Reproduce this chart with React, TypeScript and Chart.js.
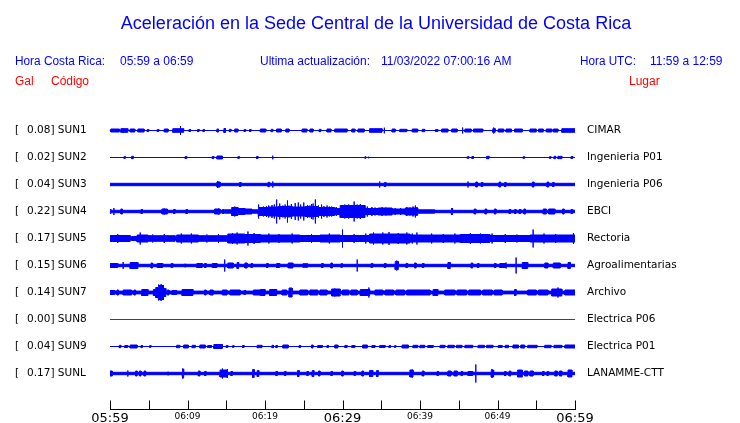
import React, { useEffect, useRef } from "react";
import { Chart, registerables } from "chart.js";

Chart.register(...registerables);

// ---------- texts ----------
const titleText = "Aceleración en la Sede Central de la Universidad de Costa Rica";
const headerLocal = ["Hora Costa Rica:", "05:59 a 06:59"];
const headerUpdate = ["Ultima actualización:", "11/03/2022 07:00:16 AM"];
const headerUtc = ["Hora UTC:", "11:59 a 12:59"];
const columnHeads = ["Gal", "Código", "Lugar"];

// ---------- stations ----------
const stationCodes = ["SUN1", "SUN2", "SUN3", "SUN4", "SUN5", "SUN6", "SUN7", "SUN8", "SUN9", "SUNL"];
const peakGal = ["0.08", "0.02", "0.04", "0.22", "0.17", "0.15", "0.14", "0.00", "0.04", "0.17"];
const places = ["CIMAR", "Ingenieria P01", "Ingenieria P06", "EBCI", "Rectoria", "Agroalimentarias", "Archivo", "Electrica P06", "Electrica P01", "LANAMME-CTT"];
const traceColors = ["#0000ff", "#0000ff", "#0000ff", "#0000ff", "#0000ff", "#0000ff", "#0000ff", "#e00000", "#0000ff", "#0000ff"];

// ---------- time axis (minutes after 05:59) ----------
const xTickMinutes = [0, 5, 10, 15, 20, 25, 30, 35, 40, 45, 50, 55, 60];
const xTickLabels = ["05:59", "", "06:09", "", "06:19", "", "06:29", "", "06:39", "", "06:49", "", "06:59"];
const xTickMajor = ["05:59", "06:29", "06:59"];

// ---------- trace envelopes (half amplitude, px-units) ----------
// base half-thickness of each trace
const baseHalf = [0, 0, 1.2, 1.2, 1.7, 1.2, 1.4, 0, 0, 1.2];

// [startMin, endMin, half]
const sun1Segs = [[0.1, 1.2, 1.5], [1.4, 2.3, 1.8], [2.6, 3.2, 1.5], [3.6, 4.4, 1.5], [4.8, 5.0, 1], [6.1, 6.3, 1], [7.0, 7.5, 1.5], [8.1, 9.5, 1.8], [10.2, 10.4, 1], [11.3, 11.5, 1], [12.0, 12.2, 1], [13.8, 14.0, 1.5], [14.7, 14.9, 2], [15.4, 15.6, 1.2], [16.1, 16.5, 1.5], [17.3, 17.5, 1], [18.0, 18.2, 1], [19.4, 20.1, 1.5], [20.8, 21.0, 1.2], [21.5, 22.1, 1.5], [22.7, 23.1, 1.5], [24.8, 25.4, 1.5], [25.8, 26.2, 1.5], [27.0, 27.2, 1.2], [28.0, 28.5, 1.5], [29.0, 30.6, 1.5], [31.2, 31.6, 1.5], [32.0, 32.8, 1.5], [33.5, 35.1, 1.8], [36.4, 36.8, 1.5], [37.4, 38.3, 1.2], [39.0, 39.7, 1.5], [40.3, 40.6, 1.2], [42.0, 42.3, 1], [42.8, 43.6, 1.5], [44.1, 44.8, 1.5], [45.8, 46.6, 1.5], [46.9, 48.1, 1.5], [49.4, 49.7, 1.8], [50.1, 50.8, 1.5], [51.1, 51.8, 1.5], [52.2, 53.2, 1.5], [54.2, 55.0, 1.5], [55.3, 55.9, 1.5], [56.3, 57.0, 1.5], [57.2, 57.8, 1.5], [58.3, 60, 1.8]];
const sun2Segs = [[1.8, 2.0, 0.8], [2.8, 3.0, 1.2], [9.7, 9.9, 1], [13.2, 13.4, 1], [13.8, 14.5, 1.5], [16.5, 16.7, 0.8], [18.9, 19.1, 1], [32.9, 33.0, 0.8], [33.3, 33.4, 0.8], [46.1, 46.3, 0.8], [46.7, 46.9, 1], [48.6, 48.9, 1.2], [53.3, 53.5, 0.8], [56.7, 56.9, 0.8], [57.3, 57.5, 1.2], [57.8, 58.0, 1.2], [58.1, 58.3, 1.2], [59.5, 59.7, 1]];
const sun3Segs = [[13.8, 14.2, 2.5], [16.7, 16.9, 2], [20.4, 20.6, 2.2], [35.4, 35.6, 2], [47.2, 47.4, 2.5], [47.9, 48.1, 2], [50.2, 50.4, 2.5], [50.9, 51.1, 2], [54.5, 54.7, 2.5], [56.4, 56.6, 2.5], [57.1, 57.3, 2]];
const sun4Segs = [[1.4, 1.6, 2.5], [4.0, 4.2, 2], [6.7, 7.4, 2.5], [8.2, 8.4, 2], [9.8, 10.0, 2], [13.5, 14.2, 2.5], [14.5, 14.7, 2], [14.8, 15.7, 1.7], [15.7, 16.5, 4], [16.5, 17.4, 3], [17.4, 18.3, 2.5], [18.3, 19.1, 1.7], [19.1, 20.4, 4], [20.4, 21.7, 4.5], [21.7, 23.5, 5], [23.5, 25.2, 4.5], [25.2, 26.8, 5], [26.8, 29.0, 4], [29.0, 29.7, 3], [29.7, 32.9, 6], [32.9, 34.6, 3], [34.6, 36.4, 3.5], [36.4, 38.1, 2.5], [38.1, 39.7, 3.5], [39.7, 41.9, 1.7], [44.0, 44.2, 3], [47.0, 47.2, 2.5], [48.4, 48.6, 2.5], [49.6, 49.8, 2.5], [51.5, 51.7, 2], [52.2, 52.4, 2], [52.8, 53.0, 2], [53.4, 53.6, 2.5], [55.9, 56.3, 2.5], [56.6, 57.4, 2.5], [58.4, 58.6, 2.5], [59.5, 59.7, 2]];
const sun5Segs = [[0, 2.6, 3], [2.8, 3.5, 2], [3.5, 4.9, 3.5], [4.9, 8.4, 2.8], [8.6, 11.4, 3.5], [11.4, 15.2, 2.8], [15.2, 17.4, 4.5], [17.4, 19.4, 4], [19.4, 24.5, 3.5], [24.5, 27.1, 3], [27.1, 29.7, 3.5], [29.7, 33.5, 3], [33.5, 38.7, 4.5], [38.7, 45.2, 3.5], [45.2, 49, 4], [49, 54.2, 3], [54.2, 60, 3.5]];
const sun6Segs = [[0, 1.0, 2], [2.6, 3.6, 3], [5.3, 5.5, 2.5], [6.1, 6.8, 2], [7.9, 8.1, 2], [9.6, 9.8, 1.5], [11.2, 11.9, 2], [12.2, 12.4, 2], [13.2, 13.8, 2], [15.2, 15.9, 2.5], [16.4, 16.6, 3], [17.4, 17.7, 2.5], [18.2, 18.4, 2], [20.2, 20.4, 2], [21.5, 21.9, 2], [23.0, 23.6, 2.5], [24.9, 25.5, 1.8], [27.3, 27.5, 2], [28.5, 28.7, 2.5], [29.8, 30.0, 1.8], [33.7, 33.9, 2], [35.4, 35.6, 2], [36.8, 37.2, 4], [38.2, 38.4, 2], [39.3, 39.5, 2.5], [40.3, 40.5, 2], [43.6, 43.9, 3], [46.6, 46.8, 2.5], [47.4, 47.6, 2], [49.6, 49.8, 2], [50.3, 51.0, 2], [53.2, 53.9, 3], [56.1, 56.5, 2.5], [57.2, 58.1, 2.5], [59.1, 59.4, 3]];
const sun7Segs = [[0, 0.6, 2], [0.9, 1.1, 2.5], [1.7, 2.8, 2.5], [3.1, 3.3, 2.5], [4.1, 4.9, 3], [5.6, 5.9, 3], [5.9, 6.2, 5], [6.2, 6.9, 7], [6.9, 7.2, 4], [7.4, 7.6, 2.5], [8.0, 8.6, 2], [9.3, 10.7, 3], [12.2, 12.4, 2.5], [12.9, 13.3, 2.5], [14.5, 15.1, 2.5], [15.5, 16.8, 2.5], [17.3, 17.5, 2], [18.5, 19.4, 2.5], [19.4, 20.0, 3], [20.6, 21.5, 3], [22.2, 22.8, 2.5], [23.1, 23.5, 4.5], [24.5, 25.5, 2.5], [25.8, 26.8, 2.5], [27.1, 28.0, 2.5], [28.6, 29.7, 3.5], [30.0, 30.8, 2.5], [31.1, 31.9, 2.5], [32.3, 33.5, 3], [34.2, 35.2, 2.5], [35.5, 36.6, 2.5], [36.9, 38.0, 2.5], [38.3, 40.0, 2.5], [40.0, 41.3, 2.5], [41.7, 42.3, 3], [43.2, 44.5, 2.5], [44.8, 46.0, 2.5], [46.3, 47.8, 2.5], [48.1, 49.3, 2.5], [49.6, 50.6, 2.5], [52.2, 52.4, 3], [53.9, 55.0, 2.5], [55.3, 56.5, 2.5], [57.0, 58.3, 3.5], [58.7, 60, 2.5]];
const sun8Segs = [];
const sun9Segs = [[1.2, 1.4, 1.2], [1.9, 2.3, 1], [2.6, 3.5, 1.5], [4.0, 4.2, 1], [5.1, 5.3, 0.8], [8.6, 9.0, 1.2], [9.5, 10.1, 1.5], [10.6, 11.0, 1.2], [11.6, 12.3, 1.5], [12.6, 13.1, 1], [13.4, 14.5, 2], [15.0, 15.2, 1], [15.8, 16.0, 0.8], [17.1, 17.3, 1], [19.0, 19.6, 1.2], [20.9, 21.1, 1.2], [21.4, 21.6, 1], [22.3, 23.0, 1.5], [24.4, 24.6, 1], [26.0, 26.2, 1.5], [26.8, 27.4, 1], [28.0, 28.2, 1], [29.0, 29.4, 1.5], [30.3, 30.6, 1], [31.2, 31.6, 1], [32.6, 33.2, 1.5], [33.8, 34.2, 1], [34.8, 35.5, 1], [36.0, 36.2, 1], [36.7, 36.9, 0.8], [37.7, 38.5, 1.5], [39.1, 39.7, 1.2], [40.0, 40.6, 1.2], [41.0, 41.7, 1], [42.6, 43.2, 1.2], [43.6, 44.4, 1.2], [44.7, 45.4, 1.2], [45.8, 46.8, 1.2], [47.5, 48.3, 1.2], [48.6, 49.4, 1.2], [50.1, 50.6, 1], [51.0, 51.4, 1.2], [52.0, 52.7, 1.5], [53.0, 53.5, 1.5], [53.9, 55.1, 1.2], [56.1, 56.9, 1.2], [57.3, 58.3, 1.2], [58.7, 60, 1.5]];
const sunLSegs = [[0, 0.3, 2.5], [3.3, 3.5, 2.5], [3.8, 4.0, 2.5], [4.4, 4.6, 2.5], [7.4, 7.6, 1.5], [9.3, 9.5, 4.5], [11.4, 11.6, 2.5], [12.2, 12.4, 2], [14.2, 15.2, 3.5], [15.6, 15.8, 2], [18.4, 18.6, 4], [19.0, 19.2, 3], [21.4, 21.6, 2], [22.5, 22.7, 2], [24.2, 24.4, 3], [25.4, 25.6, 2], [26.1, 26.3, 3], [26.9, 27.1, 2.5], [28.5, 28.7, 2], [29.9, 30.1, 2.5], [31.5, 31.7, 2], [32.5, 32.7, 2.5], [33.5, 33.9, 3], [34.4, 34.6, 3], [38.7, 39.1, 3.5], [40.3, 40.5, 2.5], [42.2, 42.4, 2], [43.6, 44.0, 2.5], [44.4, 44.8, 2.5], [45.3, 45.5, 2], [46.2, 46.8, 2], [49.2, 49.5, 3.5], [50.9, 51.1, 2], [51.5, 51.7, 2.5], [52.6, 53.2, 3.5], [53.5, 53.9, 2.5], [54.2, 54.6, 2.5], [55.8, 56.0, 2], [56.4, 56.6, 2], [57.4, 57.7, 2.5], [58.0, 58.3, 2.5], [59.1, 59.6, 3.5]];

// [minute, half] – single-sample spikes
const sun1Spikes = [[1.7, 2.5], [9.1, 4.5], [35.4, 2.8], [45.5, 3], [49.5, 3]];
const sun2Spikes = [[21, 1.8]];
const sun3Spikes = [[13.9, 3.5], [21, 3], [34.8, 3], [46.2, 3]];
const sun4Spikes = [[0.1, 2.5], [0.5, 3.5], [7.0, 3], [9.9, 2.5], [14.0, 3], [16.1, 5], [19.2, 7], [19.8, 5], [20.2, 5.5], [20.5, 6], [20.9, 6.5], [21.2, 7], [21.5, 12], [21.9, 8], [22.3, 6], [22.6, 7], [22.9, 11], [23.1, 6], [23.4, 7.5], [23.9, 8.5], [24.3, 9], [24.6, 7], [25.0, 9], [25.5, 6.5], [25.8, 6], [26.0, 7.5], [26.2, 8], [26.5, 12], [26.9, 6], [27.3, 7], [27.6, 5.5], [28.0, 6], [28.3, 5], [28.6, 5], [29.2, 4.5], [29.9, 6.5], [30.3, 7], [30.8, 7], [31.1, 6.5], [31.5, 10], [31.9, 7], [32.3, 7.5], [32.5, 6], [33.2, 5], [33.8, 4.5], [34.2, 4], [35.1, 4.5], [35.6, 4], [36.8, 3.5], [37.5, 3.5], [38.3, 4.5], [38.7, 4], [39.1, 5], [39.4, 6], [39.6, 4.5], [44.1, 3.5]];
const sun5Spikes = [[1.0, 4.5], [3.9, 6], [5.5, 4], [7.0, 4.5], [9.2, 5], [10.5, 5], [12.5, 4], [14.0, 4.5], [15.8, 5.5], [16.4, 6], [17.8, 7], [18.6, 5.5], [20.5, 5], [21.8, 4.5], [23.5, 5], [26.0, 4.5], [28.3, 5], [30.0, 9], [31.5, 4.5], [33.0, 5], [34.0, 6], [35.2, 6], [36.0, 6.5], [37.2, 5.5], [38.3, 6], [39.0, 5], [39.6, 6], [41.5, 5], [43.0, 4.5], [44.5, 5], [46.5, 5.5], [47.8, 5], [49.3, 5], [51.0, 4.5], [52.5, 4], [54.6, 9], [56.0, 5], [57.5, 4.5], [59.8, 5.5]];
const sun6Spikes = [[1.7, 3.5], [14.8, 6], [31.9, 6], [37.0, 5], [51.1, 3], [52.4, 8]];
const sun7Spikes = [[6.3, 8], [6.6, 8.5], [6.9, 7.5], [29.0, 4], [33.4, 5], [57.8, 5]];
const sun8Spikes = [];
const sun9Spikes = [];
const sunLSpikes = [[2.3, 3], [9.4, 5], [14.5, 5], [15.1, 4.5], [39.0, 4], [47.2, 9], [49.3, 4.5]];

const allSegs = [sun1Segs, sun2Segs, sun3Segs, sun4Segs, sun5Segs, sun6Segs, sun7Segs, sun8Segs, sun9Segs, sunLSegs];
const allSpikes = [sun1Spikes, sun2Spikes, sun3Spikes, sun4Spikes, sun5Spikes, sun6Spikes, sun7Spikes, sun8Spikes, sun9Spikes, sunLSpikes];

// ---------- geometry helpers (y units = px) ----------
const Y_MIN = 0.5;
const Y_MAX = 293.5;
const ROW_TOP = 279;
const ROW_STEP = 27;
const rowCenter = (k: number) => ROW_TOP - ROW_STEP * k;

function buildEnvelope(base: number, segs: number[][], spikes: number[][]) {
  const set = new Set<number>([0, 60]);
  segs.forEach((s) => { set.add(s[0]); set.add(s[1]); });
  spikes.forEach((s) => set.add(s[0]));
  const xs = Array.from(set).filter((x) => x >= 0 && x <= 60).sort((a, b) => a - b);
  const level = (a: number, b: number) => {
    let v = base;
    for (const s of segs) if (s[1] > s[0] && s[0] <= a && s[1] >= b) v = Math.max(v, s[2]);
    return v;
  };
  const pts: { x: number; v: number }[] = [];
  for (let i = 0; i < xs.length; i++) {
    const x = xs[i];
    const L = i > 0 ? level(xs[i - 1], x) : null;
    const R = i < xs.length - 1 ? level(x, xs[i + 1]) : null;
    let S = 0;
    for (const sp of spikes) if (sp[0] === x) S = Math.max(S, sp[1]);
    const push = (v: number) => {
      const last = pts[pts.length - 1];
      if (!last || last.x !== x || last.v !== v) pts.push({ x, v });
    };
    if (L !== null) push(L);
    if (S > Math.max(L ?? 0, R ?? 0)) push(S);
    if (R !== null) push(R);
  }
  return pts;
}

const FONT_HDR = "'Liberation Sans', Arial, Helvetica, sans-serif";
const FONT_LBL = "'DejaVu Sans', Verdana, sans-serif";

const textPlugin = {
  id: "seismoText",
  afterDraw(chart: any) {
    const { ctx, chartArea, scales } = chart;
    const xs = scales.x;
    const ys = scales.y;
    ctx.save();

    // title
    ctx.fillStyle = "#0000ff";
    ctx.textAlign = "center";
    ctx.textBaseline = "alphabetic";
    ctx.font = `18px ${FONT_HDR}`;
    ctx.fillText(titleText, 376, 29, 512);

    // header lines
    ctx.textAlign = "left";
    ctx.font = `12px ${FONT_HDR}`;
    ctx.fillText(headerLocal[0], 15, 65, 90);
    ctx.fillText(headerLocal[1], 120, 65, 75);
    ctx.fillText(headerUpdate[0], 260, 65, 113);
    ctx.fillText(headerUpdate[1], 381, 65, 132);
    ctx.fillText(headerUtc[0], 580, 65, 56);
    ctx.fillText(headerUtc[1], 650, 65, 73);

    ctx.fillStyle = "#ff0000";
    ctx.fillText(columnHeads[0], 15, 85);
    ctx.fillText(columnHeads[1], 51, 85);
    ctx.fillText(columnHeads[2], 629, 85);

    // station labels
    ctx.fillStyle = "#000000";
    ctx.font = `10.5px ${FONT_LBL}`;
    ctx.textBaseline = "middle";
    for (let k = 0; k < stationCodes.length; k++) {
      const y = ys.getPixelForValue(rowCenter(k));
      ctx.textAlign = "left";
      ctx.fillText("[", 15, y);
      ctx.fillText(`${peakGal[k]}] ${stationCodes[k]}`, 27, y);
      ctx.fillText(places[k], 587, y);
    }

    // time axis
    const yb = Math.round(chartArea.bottom) + 0.5;
    ctx.strokeStyle = "#000000";
    ctx.lineWidth = 1;
    ctx.beginPath();
    ctx.moveTo(chartArea.left, yb);
    ctx.lineTo(chartArea.right + 1, yb);
    for (const m of xTickMinutes) {
      const px = Math.round(xs.getPixelForValue(m)) + 0.5;
      ctx.moveTo(px, yb - 9);
      ctx.lineTo(px, yb);
    }
    ctx.stroke();

    ctx.textAlign = "center";
    ctx.textBaseline = "alphabetic";
    xTickMinutes.forEach((m, i) => {
      const lab = xTickLabels[i];
      if (!lab) return;
      const major = xTickMajor.includes(lab);
      ctx.font = `${major ? 13 : 9}px ${FONT_LBL}`;
      ctx.fillText(lab, xs.getPixelForValue(m), major ? 421.5 : 418.5);
    });
    ctx.restore();
  },
};

export default function App() {
  const canvasRef = useRef<HTMLCanvasElement | null>(null);

  useEffect(() => {
    document.body.style.margin = "0";
    const canvas = canvasRef.current;
    if (!canvas) return;

    const datasets: any[] = [];
    for (let k = 0; k < stationCodes.length; k++) {
      const env = buildEnvelope(baseHalf[k], allSegs[k], allSpikes[k]);
      const c = rowCenter(k);
      const color = traceColors[k];
      datasets.push({
        label: stationCodes[k] + "+",
        data: env.map((p) => ({ x: p.x, y: c + p.v })),
        borderColor: color,
        backgroundColor: color,
        borderWidth: 1,
        pointRadius: 0,
        tension: 0,
        fill: "+1",
        clip: false,
      });
      datasets.push({
        label: stationCodes[k] + "-",
        data: env.map((p) => ({ x: p.x, y: c - p.v })),
        borderColor: color,
        backgroundColor: color,
        borderWidth: 1,
        pointRadius: 0,
        tension: 0,
        fill: false,
        clip: false,
      });
    }

    const chart = new Chart(canvas, {
      type: "line",
      data: { datasets },
      options: {
        animation: false,
        responsive: false,
        devicePixelRatio: 1,
        layout: { padding: { left: 110, right: 165, top: 116, bottom: 14 } },
        plugins: {
          legend: { display: false },
          title: { display: false },
          tooltip: { enabled: false },
        },
        events: [],
        scales: {
          x: { type: "linear", min: 0, max: 60, display: false },
          y: { type: "linear", min: Y_MIN, max: Y_MAX, display: false },
        },
      },
      plugins: [textPlugin],
    });
    return () => chart.destroy();
  }, []);

  return (
    <div style={{ width: 740, height: 423, background: "#ffffff" }}>
      <canvas ref={canvasRef} width={740} height={423} style={{ display: "block" }} />
    </div>
  );
}
